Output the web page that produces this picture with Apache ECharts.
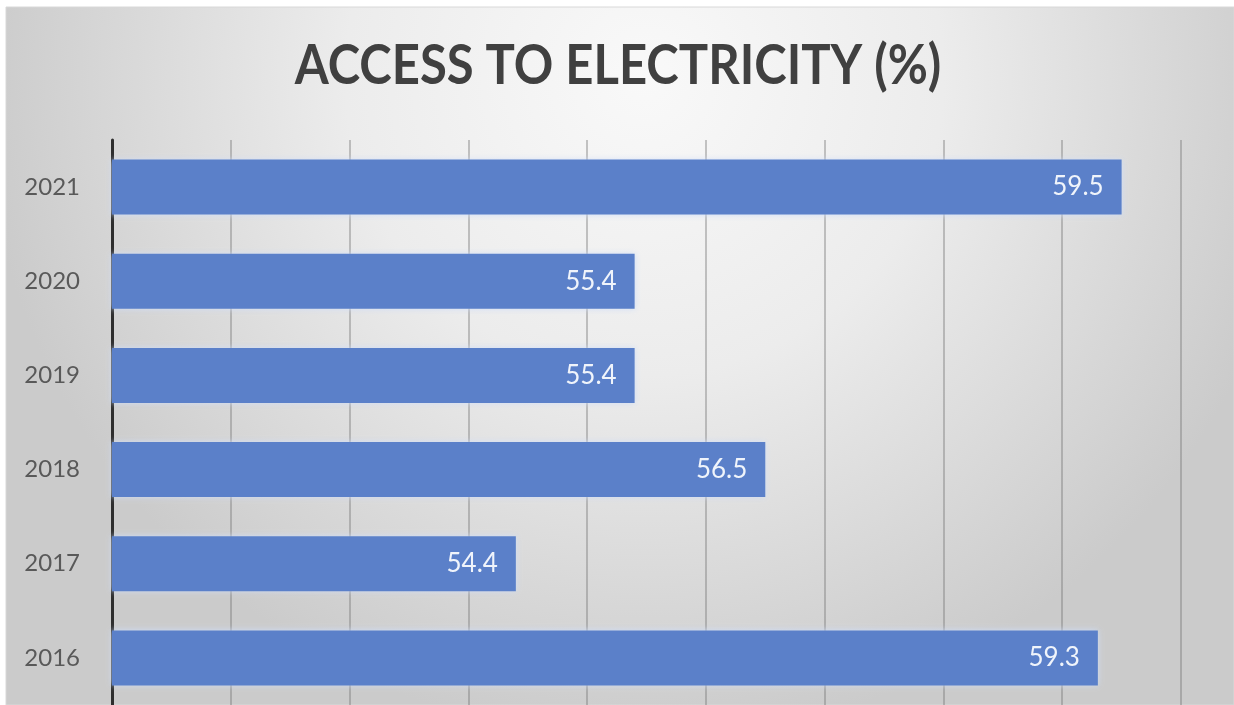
<!DOCTYPE html>
<html>
<head>
<meta charset="utf-8">
<title>Access to Electricity (%)</title>
<script src="https://cdn.jsdelivr.net/npm/echarts@6/dist/echarts.min.js"></script>
<style>
  html, body { margin: 0; padding: 0; background: #ffffff; }
  #chart { width: 1234px; height: 705px; }
</style>
</head>
<body>
<div id="chart"></div>
<script>
// Share of population with access to electricity, by year
const years = ['2016', '2017', '2018', '2019', '2020', '2021'];
const accessPct = [59.3, 54.4, 56.5, 55.4, 55.4, 59.5];
const titleText = 'ACCESS TO ELECTRICITY (%)';
const axisMin = 51;
const axisMax = 60;
const axisStep = 1;

const chart = echarts.init(document.getElementById('chart'), null, { renderer: 'canvas' });

chart.setOption({
  animation: false,
  backgroundColor: '#ffffff',
  graphic: [{
    type: 'rect',
    z: -10,
    silent: true,
    shape: { x: 6, y: 7, width: 1228, height: 698 },
    style: {
      fill: new echarts.graphic.RadialGradient(0.52, 0.1, 0.95, [
        { offset: 0, color: '#f9f9f9' },
        { offset: 0.45, color: '#ececec' },
        { offset: 1, color: '#cbcbcb' }
      ]),
      stroke: '#d8d8d8',
      lineWidth: 1
    }
  }, {
    // chart heading, set in a slightly condensed bold face
    type: 'text',
    z: 10,
    silent: true,
    x: 618,
    y: 38,
    scaleX: 0.875,
    style: {
      text: titleText,
      align: 'center',
      verticalAlign: 'top',
      font: 'bold 56px Lato',
      fill: '#404040'
    }
  }],
  grid: {
    left: 112,
    top: 140,
    width: 1069,
    height: 566,
    containLabel: false
  },
  xAxis: {
    type: 'value',
    min: axisMin,
    max: axisMax,
    interval: axisStep,
    axisLabel: { show: false },
    axisLine: { show: false },
    axisTick: { show: false },
    splitLine: {
      show: true,
      lineStyle: { color: 'rgba(120,120,120,0.55)', width: 1.5 }
    }
  },
  yAxis: {
    type: 'category',
    data: years,
    axisLine: { show: true, lineStyle: { color: '#2e2e2e', width: 3 } },
    axisTick: { show: false },
    axisLabel: {
      margin: 32,
      fontFamily: 'Lato',
      fontSize: 24,
      color: '#595959'
    },
    splitLine: { show: false }
  },
  series: [{
    type: 'bar',
    data: accessPct,
    barWidth: 55,
    itemStyle: {
      color: '#5b80c9',
      shadowColor: 'rgba(205,220,248,0.95)',
      shadowBlur: 6
    },
    label: {
      show: true,
      position: 'insideRight',
      distance: 18,
      fontFamily: 'Lato',
      fontSize: 26,
      color: '#f0f4fb',
      formatter: p => p.value.toFixed(1)
    }
  }]
});
</script>
</body>
</html>
